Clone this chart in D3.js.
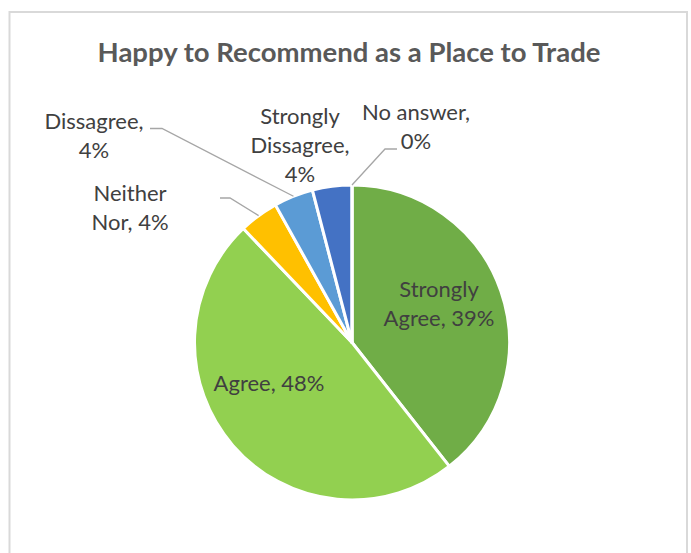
<!DOCTYPE html>
<html>
<head>
<meta charset="utf-8">
<script src="https://cdn.jsdelivr.net/npm/d3@7"></script>
<style>
  html, body { margin: 0; padding: 0; background: #ffffff; }
  svg { display: block; font-family: Lato, "Open Sans", sans-serif; }
</style>
</head>
<body>
<svg id="chart" width="691" height="553"></svg>
<script>
// Survey answers, share of respondents (%)
const categories = ["Strongly Agree", "Agree", "Neither Nor", "Dissagree", "Strongly Dissagree", "No answer"];
const percents = [39, 48, 4, 4, 4, 0];
const colors = ["#70AD47", "#92D050", "#FFC000", "#5B9BD5", "#4472C4", "#264478"];
const title = "Happy to Recommend as a Place to Trade";

// Label placement relative to the pie centre: how the text wraps, where the
// block sits and, for outside labels, the elbow of the leader line.
const labelLayout = {
  "Strongly Agree":     { lines: ["Strongly", "Agree, {v}"], dx: 87, dy: -45.5 },
  "Agree":              { lines: ["Agree, {v}"], dx: -83, dy: 48.5 },
  "Neither Nor":        { lines: ["Neither", "Nor, {v}"], dx: -222, dy: -141.5, leader: [[-132, -144.5], [-122, -144.5]] },
  "Dissagree":          { lines: ["Dissagree,", "{v}"], dx: -258, dy: -213.5, leader: [[-202, -214], [-190, -214]] },
  "Strongly Dissagree": { lines: ["Strongly", "Dissagree,", "{v}"], dx: -52, dy: -218.5 },
  "No answer":          { lines: ["No answer,", "{v}"], dx: 64, dy: -222.5, leader: [[45, -193.5], [33, -193.5]] }
};

const W = 691, H = 553;
const cx = 352, cy = 342.5, radius = 157.5;
const lineHeight = 29;

const svg = d3.select("#chart");

// chart area frame
svg.append("rect")
  .attr("x", 9.5).attr("y", 12)
  .attr("width", 677.5).attr("height", H)
  .attr("fill", "#ffffff")
  .attr("stroke", "#D9D9D9")
  .attr("stroke-width", 2);

svg.append("text")
  .attr("x", 349).attr("y", 61.5)
  .attr("text-anchor", "middle")
  .attr("font-size", 27.5)
  .attr("font-weight", 700)
  .attr("fill", "#595959")
  .text(title);

const data = categories.map((c, i) => ({ category: c, value: percents[i], color: colors[i] }));

const pie = d3.pie().sort(null).value(d => d.value);
const arcs = pie(data);
const arc = d3.arc().innerRadius(0).outerRadius(radius);

const g = svg.append("g").attr("transform", `translate(${cx},${cy})`);

g.selectAll("path.slice")
  .data(arcs)
  .join("path")
  .attr("class", "slice")
  .attr("d", arc)
  .attr("fill", d => d.data.color)
  .attr("stroke", "#ffffff")
  .attr("stroke-width", 3)
  .attr("stroke-linejoin", "round");

const fmt = v => d3.format(".0f")(v) + "%";

// leader lines: from the label elbow to the slice edge at its mid-angle
arcs.forEach(a => {
  const lay = labelLayout[a.data.category];
  if (!lay.leader) return;
  const mid = (a.startAngle + a.endAngle) / 2;
  const edge = [Math.sin(mid) * radius, -Math.cos(mid) * radius];
  g.append("path")
    .attr("d", d3.line()([lay.leader[0], lay.leader[1], edge]))
    .attr("fill", "none")
    .attr("stroke", "#A6A6A6")
    .attr("stroke-width", 1.3);
});

// data labels
arcs.forEach(a => {
  const lay = labelLayout[a.data.category];
  const t = g.append("text")
    .attr("text-anchor", "middle")
    .attr("font-size", 22)
    .attr("fill", "#404040");
  lay.lines.forEach((ln, i) => {
    t.append("tspan")
      .attr("x", lay.dx)
      .attr("y", lay.dy + i * lineHeight)
      .text(ln.replace("{v}", fmt(a.data.value)));
  });
});
</script>
</body>
</html>
